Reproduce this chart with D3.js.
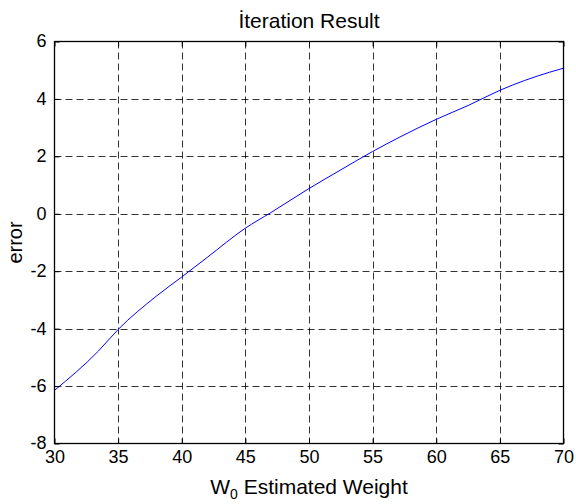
<!DOCTYPE html>
<html><head><meta charset="utf-8">
<script src="https://cdn.jsdelivr.net/npm/d3@7"></script>
<style>body{margin:0;background:#fff}svg{display:block}text{font-family:"Liberation Sans",Arial,Helvetica,sans-serif;fill:#000}</style>
</head><body><svg id="c" width="576" height="504"></svg>
<script>
const weightX = [30, 33.45, 35, 38, 40, 42, 45, 47, 50, 52.5, 55, 57.13, 60, 62.5, 65, 68.9, 70];
const errorY = [-6.15, -4.78, -4.03, -2.87, -2.2, -1.52, -0.5, 0.04, 0.88, 1.53, 2.17, 2.67, 3.29, 3.77, 4.30, 4.93, 5.07];
const xTicks = [30, 35, 40, 45, 50, 55, 60, 65, 70];
const yTicks = [-8, -6, -4, -2, 0, 2, 4, 6];
const titleText = "İteration Result";
const yLabel = "error";

const svg = d3.select("#c");
const L = 54.5, R = 563.5, T = 41.5, B = 443.5;
const x = d3.scaleLinear().domain([30, 70]).range([L, R]);
const y = d3.scaleLinear().domain([-8, 6]).range([B, T]);

// grid
const g = svg.append("g");
g.selectAll("line.gx").data(xTicks.slice(1, -1)).join("line")
  .attr("x1", d => Math.round(x(d)) + 0.5).attr("x2", d => Math.round(x(d)) + 0.5)
  .attr("y1", T).attr("y2", B)
  .attr("stroke", "#000").attr("stroke-width", 1).attr("stroke-dasharray", "7,4").attr("opacity", 0.8);
g.selectAll("line.gy").data(yTicks.slice(1, -1)).join("line")
  .attr("y1", d => Math.round(y(d)) + 0.5).attr("y2", d => Math.round(y(d)) + 0.5)
  .attr("x1", L).attr("x2", R)
  .attr("stroke", "#000").attr("stroke-width", 1).attr("stroke-dasharray", "7,4").attr("opacity", 0.8);

// line
const pts = weightX.map((v, i) => [v, errorY[i]]);
svg.append("path").datum(pts)
  .attr("d", d3.line().x(d => x(d[0])).y(d => y(d[1])).curve(d3.curveMonotoneX))
  .attr("fill", "none").attr("stroke", "#0000ff").attr("stroke-width", 1);

// axes with inward ticks
const fs = "18px";
const fmt = d => String(d);
const ax = svg.append("g").attr("transform", `translate(0,${B})`)
  .call(d3.axisBottom(x).tickValues(xTicks).tickSize(-5).tickPadding(7).tickFormat(fmt));
const axT = svg.append("g").attr("transform", `translate(0,${T})`)
  .call(d3.axisTop(x).tickValues(xTicks).tickSize(-5).tickFormat(""));
const ay = svg.append("g").attr("transform", `translate(${L},0)`)
  .call(d3.axisLeft(y).tickValues(yTicks).tickSize(-5).tickPadding(8).tickFormat(fmt));
const ayR = svg.append("g").attr("transform", `translate(${R},0)`)
  .call(d3.axisRight(y).tickValues(yTicks).tickSize(-5).tickFormat(""));
[ax, axT, ay, ayR].forEach(a => {
  a.select(".domain").remove();
  a.selectAll("line").attr("stroke", "#000");
  a.selectAll("text").style("font-size", fs).attr("font-family", null);
});
ay.selectAll("text").attr("dy", "0.3em");

svg.append("rect").attr("x", L).attr("y", T).attr("width", R - L).attr("height", B - T)
  .attr("fill", "none").attr("stroke", "#000").attr("stroke-width", 1.3);

// labels
svg.append("text").attr("x", (L + R) / 2).attr("y", 28).attr("text-anchor", "middle")
  .style("font-size", "21px").text(titleText);
const xl = svg.append("text").attr("x", (L + R) / 2).attr("y", 494).attr("text-anchor", "middle")
  .style("font-size", "21px");
xl.append("tspan").text("W");
xl.append("tspan").attr("dy", 5).style("font-size", "14px").text("0");
xl.append("tspan").attr("dy", -5).text(" Estimated Weight");
svg.append("text").attr("transform", `translate(22,${(T + B) / 2}) rotate(-90)`)
  .attr("text-anchor", "middle").style("font-size", "20px").text(yLabel);
</script></body></html>
